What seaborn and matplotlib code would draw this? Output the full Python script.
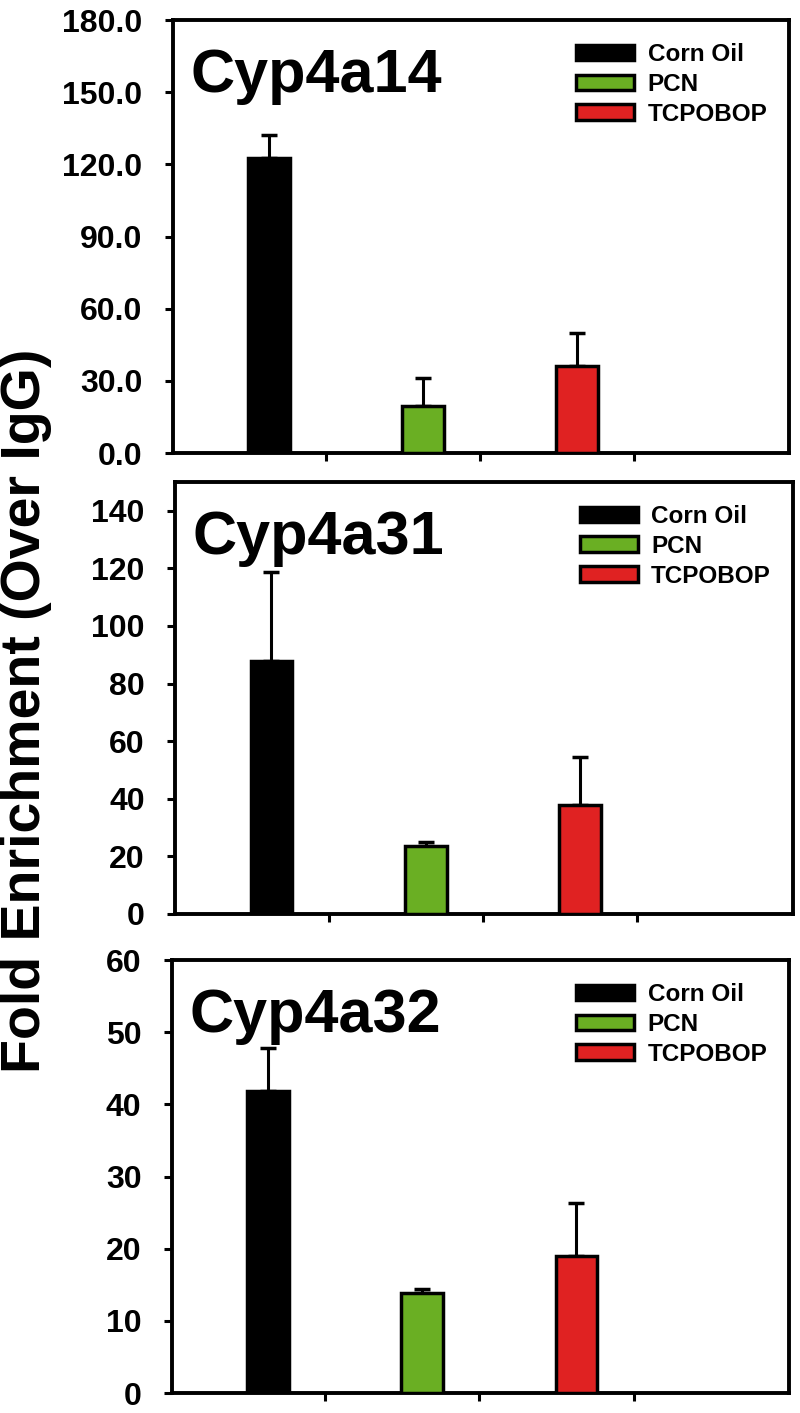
import matplotlib
matplotlib.use("Agg")
import matplotlib.pyplot as plt
import seaborn as sns
import pandas as pd
import numpy as np
from matplotlib.patches import Patch

sns.set_style("white")
plt.rcParams['font.family'] = ['Liberation Sans', 'DejaVu Sans']
plt.rcParams['text.color'] = 'black'
plt.rcParams['xtick.color'] = 'black'
plt.rcParams['ytick.color'] = 'black'

treatments = ["Corn Oil", "PCN", "TCPOBOP"]
colors = ["#000000", "#6aaf23", "#e02222"]

genes = ["Cyp4a14", "Cyp4a31", "Cyp4a32"]
cyp4a14_mean = [122.5, 19.5, 36.2]
cyp4a14_err = [9.7, 11.7, 13.7]
cyp4a31_mean = [88.0, 23.7, 38.0]
cyp4a31_err = [30.7, 1.3, 16.4]
cyp4a32_mean = [41.9, 13.9, 19.0]
cyp4a32_err = [5.9, 0.5, 7.4]

means = [cyp4a14_mean, cyp4a31_mean, cyp4a32_mean]
errs = [cyp4a14_err, cyp4a31_err, cyp4a32_err]
ylims = [180, 150, 60]
yticks = [np.arange(0, 181, 30), np.arange(0, 141, 20), np.arange(0, 61, 10)]
yfmt = ["{:.1f}", "{:.0f}", "{:.0f}"]
xtick_pos = [0.37, 1.37, 2.37]

fig = plt.figure(figsize=(8, 14.13), dpi=100)
positions = [
    [0.216, 0.6794, 0.770, 0.3064],
    [0.219, 0.3532, 0.772, 0.3057],
    [0.215, 0.01415, 0.771, 0.3064],
]

for i in range(3):
    ax = fig.add_axes(positions[i])
    df = pd.DataFrame({"treatment": treatments, "value": means[i]})
    sns.barplot(data=df, x="treatment", y="value", hue="treatment",
                palette=colors, saturation=1, width=0.27, edgecolor="black",
                linewidth=2.5, legend=False, ax=ax, zorder=3)
    xs = np.arange(len(treatments))
    ax.errorbar(xs, means[i], yerr=[np.zeros(3), errs[i]], fmt="none",
                ecolor="black", elinewidth=2.2, capsize=6, capthick=2.5, zorder=2)
    ax.set_xlim(-0.623, 3.377)
    ax.set_ylim(0, ylims[i])
    ax.set_yticks(yticks[i])
    ax.set_yticklabels([yfmt[i].format(v) for v in yticks[i]])
    ax.set_xticks(xtick_pos)
    ax.set_xticklabels([])
    ax.set_xlabel("")
    ax.set_ylabel("")
    for s in ax.spines.values():
        s.set_linewidth(2.8)
        s.set_color("black")
        s.set_visible(True)
    ax.tick_params(axis="y", direction="out", length=6, width=2.2, pad=16,
                   labelsize=23, left=True)
    ax.tick_params(axis="x", direction="out", length=6, width=2.2, bottom=True)
    for lbl in ax.get_yticklabels():
        lbl.set_fontweight("bold")
    ax.text(0.028, 0.935, genes[i], transform=ax.transAxes, fontsize=44,
            fontweight="bold", ha="left", va="top")
    handles = [Patch(facecolor=c, edgecolor="black", linewidth=2.5) for c in colors]
    ax.legend(handles, treatments, loc="upper left",
              bbox_to_anchor=(0.635, 0.975), frameon=False, borderpad=0,
              handlelength=2.4, handleheight=0.6, handletextpad=0.55,
              labelspacing=0.28, prop={"weight": "bold", "size": 17.5})

fig.text(0.032, 0.497, "Fold Enrichment (Over IgG)", rotation=90, fontsize=40,
         fontweight="bold", ha="center", va="center")

fig.savefig("out.png", dpi=100)
